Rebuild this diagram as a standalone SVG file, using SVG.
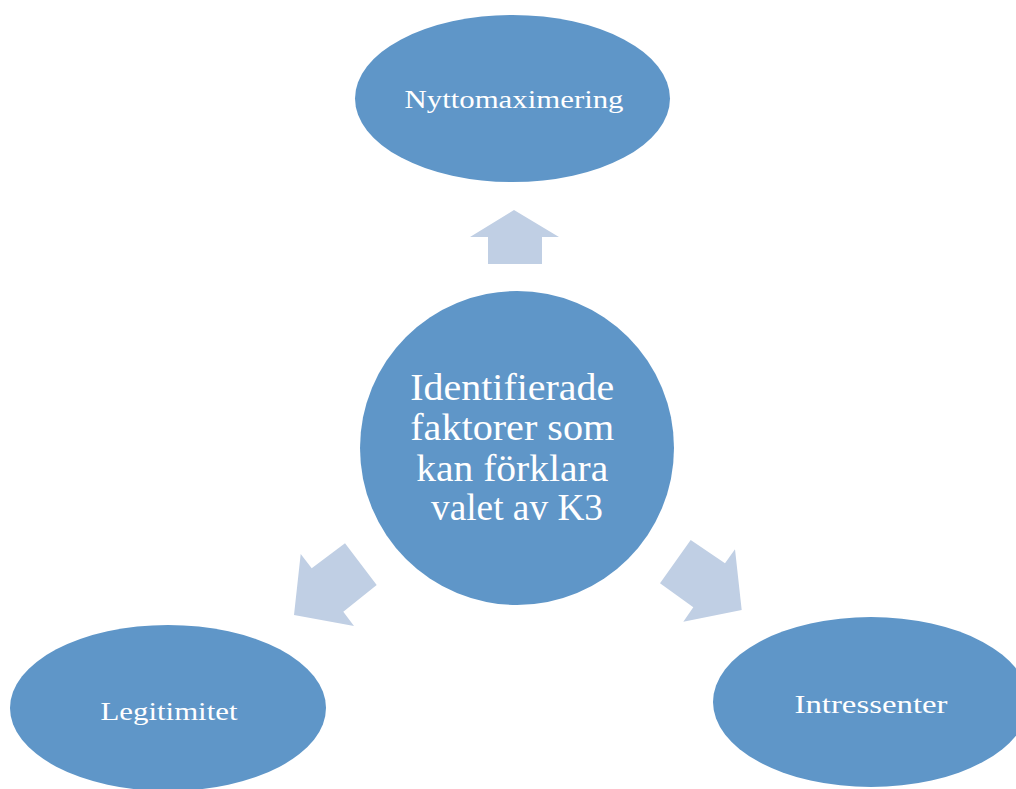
<svg xmlns="http://www.w3.org/2000/svg" width="1016" height="789" viewBox="0 0 1016 789">
<style>
.node{fill:#5f96c8}
.arrow{fill:#c0cfe4}
.lbl{font-family:"Liberation Serif","DejaVu Serif",serif;fill:#ffffff;text-anchor:middle}
</style>
<rect width="1016" height="789" fill="#ffffff"/>
<g id="connectors">
<polygon class="arrow" points="514,210 559,237 542,237 542,264 488,264 488,237 470,237"/>
<polygon class="arrow" points="294,615 300.7,554 311.7,568.3 345,543.3 376.7,585 343.3,611.7 354,626"/>
<polygon class="arrow" points="741.7,610 683.3,621.7 693.3,607.3 660,583.3 690.7,540 725,563.3 735,549.3"/>
</g>
<g id="node-top">
<ellipse class="node" cx="512.5" cy="98.5" rx="157.5" ry="83.5"/>
<text class="lbl" x="514" y="108" font-size="25" textLength="219" lengthAdjust="spacingAndGlyphs">Nyttomaximering</text>
</g>
<g id="node-center">
<circle class="node" cx="517" cy="448" r="157"/>
<text class="lbl" font-size="38">
<tspan x="517" y="400" textLength="204" lengthAdjust="spacingAndGlyphs">Identifierade</tspan>
<tspan x="517" y="440" textLength="204" lengthAdjust="spacingAndGlyphs">faktorer som</tspan>
<tspan x="517" y="481" textLength="192" lengthAdjust="spacingAndGlyphs">kan förklara</tspan>
<tspan x="517" y="520" textLength="172" lengthAdjust="spacingAndGlyphs">valet av K3</tspan>
</text>
</g>
<g id="node-left">
<ellipse class="node" cx="168" cy="708" rx="158" ry="83"/>
<text class="lbl" x="169" y="720" font-size="25" textLength="137" lengthAdjust="spacingAndGlyphs">Legitimitet</text>
</g>
<g id="node-right">
<ellipse class="node" cx="871" cy="702" rx="158" ry="85"/>
<text class="lbl" x="871" y="713" font-size="25" textLength="153" lengthAdjust="spacingAndGlyphs">Intressenter</text>
</g>
</svg>
